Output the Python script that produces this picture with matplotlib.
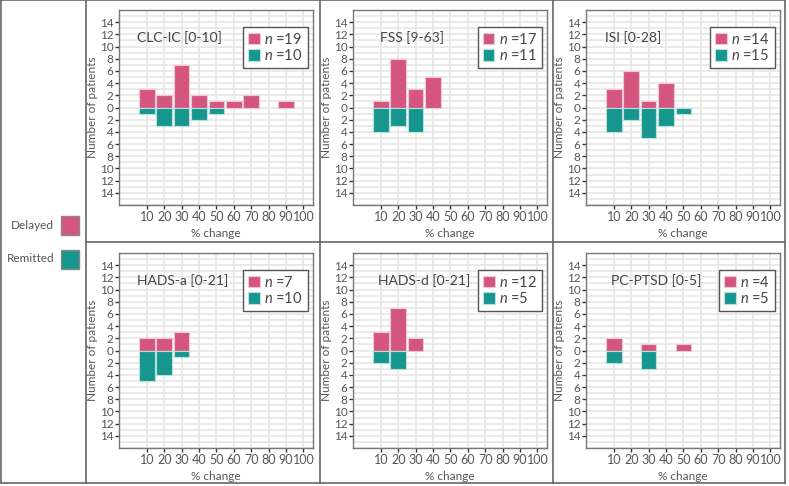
import numpy as np
import matplotlib
matplotlib.use("Agg")
import matplotlib.pyplot as plt
from matplotlib.lines import Line2D
from matplotlib.patches import Rectangle

plt.rcParams['font.family'] = ['Lato', 'DejaVu Sans']
plt.rcParams['mathtext.fontset'] = 'custom'
plt.rcParams['mathtext.it'] = 'Lato:italic'
plt.rcParams['mathtext.rm'] = 'Lato'

# % change bins (bar centres)
bins = [10, 20, 30, 40, 50, 60, 70, 80, 90, 100]

titles = ['CLC-IC [0-10]', 'FSS [9-63]', 'ISI [0-28]',
          'HADS-a [0-21]', 'HADS-d [0-21]', 'PC-PTSD [0-5]']

# patients per bin, delayed (up) and remitted (down)
delayed_clc = [3, 2, 7, 2, 1, 1, 2, 0, 1, 0]
remitted_clc = [1, 3, 3, 2, 1, 0, 0, 0, 0, 0]
delayed_fss = [1, 8, 3, 5, 0, 0, 0, 0, 0, 0]
remitted_fss = [4, 3, 4, 0, 0, 0, 0, 0, 0, 0]
delayed_isi = [3, 6, 1, 4, 0, 0, 0, 0, 0, 0]
remitted_isi = [4, 2, 5, 3, 1, 0, 0, 0, 0, 0]
delayed_hadsa = [2, 2, 3, 0, 0, 0, 0, 0, 0, 0]
remitted_hadsa = [5, 4, 1, 0, 0, 0, 0, 0, 0, 0]
delayed_hadsd = [3, 7, 2, 0, 0, 0, 0, 0, 0, 0]
remitted_hadsd = [2, 3, 0, 0, 0, 0, 0, 0, 0, 0]
delayed_ptsd = [2, 0, 1, 0, 1, 0, 0, 0, 0, 0]
remitted_ptsd = [2, 0, 3, 0, 0, 0, 0, 0, 0, 0]

delayed_all = [delayed_clc, delayed_fss, delayed_isi,
               delayed_hadsa, delayed_hadsd, delayed_ptsd]
remitted_all = [remitted_clc, remitted_fss, remitted_isi,
                remitted_hadsa, remitted_hadsd, remitted_ptsd]

yticks = [-14, -12, -10, -8, -6, -4, -2, 0, 2, 4, 6, 8, 10, 12, 14]

PINK = '#d4567f'
TEAL = '#16968e'
TXT = '#555555'

W, H = 789, 486
fig = plt.figure(figsize=(W / 100, H / 100), dpi=100)

# layout in pixels
lefts = [119, 353, 586]
tops = [10, 253]
aw, ah = 194, 195
title_x = [0.093, 0.137, 0.10, 0.095, 0.13, 0.128]


def px_line(x0, y0, x1, y1):
    fig.add_artist(Line2D([x0 / W, x1 / W], [1 - y0 / H, 1 - y1 / H],
                          color='#666666', lw=1.2))


def nonzero(vals):
    xs = [b for b, v in zip(bins, vals) if v > 0]
    vs = [v for v in vals if v > 0]
    return xs, vs


for i in range(6):
    r, c = divmod(i, 3)
    ax = fig.add_axes([lefts[c] / W, 1 - (tops[r] + ah) / H, aw / W, ah / H])
    d = delayed_all[i]
    m = remitted_all[i]
    xd, vd = nonzero(d)
    xm, vm = nonzero(m)
    ax.bar(xd, vd, width=9, color=PINK, edgecolor='#f3c6d4', lw=0.8,
           zorder=3, label=r'$n$ =%d' % sum(d))
    ax.bar(xm, [-v for v in vm], width=9, color=TEAL, edgecolor='#b8e0dc', lw=0.8,
           zorder=3, label=r'$n$ =%d' % sum(m))
    ax.set_xlim(-6, 105.5)
    ax.set_ylim(-16, 16)
    ax.set_xticks(bins)
    ax.set_xticklabels([str(b) for b in bins], fontsize=9, color=TXT)
    ax.set_yticks(yticks)
    ax.set_yticklabels([str(abs(t)) for t in yticks], fontsize=8.5, color=TXT)
    ax.set_yticks(np.arange(-16, 17, 1), minor=True)
    ax.tick_params(axis='y', which='minor', length=0)
    ax.tick_params(axis='both', which='major', length=3, width=1, color='#333333', pad=1)
    ax.grid(True, which='both', color='#e6e6e6', lw=1.2, zorder=0)
    ax.grid(False, axis='x', which='minor')
    ax.set_axisbelow(True)
    for s in ax.spines.values():
        s.set_color('#777777')
        s.set_linewidth(1)
    ax.set_xlabel('% change', fontsize=8.5, color=TXT, labelpad=4)
    ax.set_ylabel('Number of patients', fontsize=8.5, color=TXT, labelpad=1)
    ax.text(title_x[i], 0.86, titles[i], transform=ax.transAxes,
            fontsize=10, color='#444444', va='center', ha='left')
    leg = ax.legend(loc='upper right', bbox_to_anchor=(0.975, 0.915),
                    borderaxespad=0, fancybox=False, fontsize=10.5,
                    handlelength=0.8, handleheight=0.8, handletextpad=0.3,
                    borderpad=0.35, labelspacing=0.1, framealpha=1)
    leg.get_frame().set_edgecolor('#555555')
    leg.get_frame().set_linewidth(1)
    for t in leg.get_texts():
        t.set_color('#444444')

# outer frame and separators
px_line(0.5, 0.5, 785, 0.5)
px_line(0.5, 0.5, 0.5, 483)
px_line(0.5, 483, 785, 483)
px_line(785, 0.5, 785, 483)
px_line(86, 0.5, 86, 483)
px_line(320, 0.5, 320, 483)
px_line(553, 0.5, 553, 483)
px_line(86, 242.5, 785, 242.5)

# left legend
fig.text(54 / W, 1 - 225 / H, 'Delayed', ha='right', va='center',
         fontsize=8.5, color=TXT)
fig.text(54 / W, 1 - 259 / H, 'Remitted', ha='right', va='center',
         fontsize=8.5, color=TXT)
fig.add_artist(Rectangle((61 / W, 1 - 235 / H), 18 / W, 19 / H,
                         facecolor=PINK, edgecolor='#888888', lw=1))
fig.add_artist(Rectangle((61 / W, 1 - 269 / H), 18 / W, 19 / H,
                         facecolor=TEAL, edgecolor='#888888', lw=1))

fig.savefig('out.png', dpi=100)
